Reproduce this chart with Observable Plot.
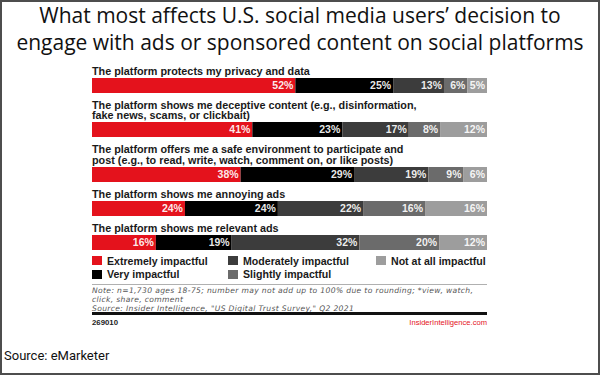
<!DOCTYPE html>
<html><head><meta charset="utf-8">
<script src="https://cdn.jsdelivr.net/npm/d3@7"></script>
<script src="https://cdn.jsdelivr.net/npm/@observablehq/plot@0.6"></script>
<style>
body{margin:0;background:#fff;}
#frame{position:relative;width:600px;height:375px;overflow:hidden;background:#fff;}
#border{position:absolute;left:0;top:0;width:600px;height:375px;box-sizing:border-box;border:2px solid #4d4d4d;pointer-events:none;}
#title{position:absolute;left:0;right:0;top:2px;text-align:center;font-family:"Open Sans";font-size:21px;line-height:27px;color:#111;white-space:nowrap;}
#chart{position:absolute;left:92px;top:65.75px;width:395px;}
.lab{font-family:"Liberation Sans";font-weight:bold;font-size:10.8px;line-height:10.5px;color:#1a1a1a;white-space:pre;margin-bottom:1.5px;}
.bar{margin-bottom:7px;}
svg{display:block;}
#legend{position:absolute;left:92px;top:254px;display:grid;grid-template-columns:136px 148px 120px;grid-template-rows:13.5px 13.5px;grid-auto-flow:column;font-family:"Liberation Sans";font-weight:bold;font-size:10.6px;color:#1a1a1a;}
#legend div{display:flex;align-items:center;white-space:nowrap;}
#legend span.sw{display:inline-block;width:10px;height:9px;margin-right:5px;}
#divider{position:absolute;left:92px;top:284px;width:395px;height:1px;background:#b0b0b0;}
#note{position:absolute;left:92px;top:285.5px;width:400px;font-family:"DejaVu Sans";font-style:italic;font-size:7.6px;line-height:9px;letter-spacing:0.35px;color:#555;white-space:nowrap;}
#thick{position:absolute;left:92px;top:312px;width:395px;height:3px;background:#111;}
#foot{position:absolute;left:92px;top:319px;width:395px;font-family:"Liberation Sans";font-weight:bold;font-size:7.8px;line-height:8px;color:#222;}
#foot .r{position:absolute;right:0;top:0;color:#e4121c;font-weight:normal;font-size:7.6px;}
#source{position:absolute;left:4px;top:348px;font-family:Roboto;font-size:13px;color:#111;}
</style>
</head><body>
<div id="frame">
  <div id="title">What most affects U.S. social media users’ decision to<br>engage with ads or sponsored content on social platforms</div>
  <div id="chart"></div>
  <div id="legend"></div>
  <div id="divider"></div>
  <div id="note">Note: n=1,730 ages 18-75; number may not add up to 100% due to rounding; *view, watch,<br>click, share, comment<br>Source: Insider Intelligence, "US Digital Trust Survey," Q2 2021</div>
  <div id="thick"></div>
  <div id="foot">269010<span class="r">InsiderIntelligence.com</span></div>
  <div id="source">Source: eMarketer</div>
  <div id="border"></div>
</div>
<script>
const statements = [
  "The platform protects my privacy and data",
  "The platform shows me deceptive content (e.g., disinformation,\nfake news, scams, or clickbait)",
  "The platform offers me a safe environment to participate and\npost (e.g., to read, write, watch, comment on, or like posts)",
  "The platform shows me annoying ads",
  "The platform shows me relevant ads"
];
const levels = ["Extremely impactful", "Very impactful", "Moderately impactful", "Slightly impactful", "Not at all impactful"];
const extremely = [52, 41, 38, 24, 16];
const very = [25, 23, 29, 24, 19];
const moderately = [13, 17, 19, 22, 32];
const slightly = [6, 8, 9, 16, 20];
const notAtAll = [5, 12, 6, 16, 12];
const colors = ["#e4121c", "#000000", "#3c3c3c", "#6b6b6b", "#9d9d9d"];

const series = [extremely, very, moderately, slightly, notAtAll];
const chart = document.getElementById("chart");

statements.forEach((s, i) => {
  const rowData = levels.map((lv, j) => ({level: lv, value: series[j][i]}));
  const lab = document.createElement("div");
  lab.className = "lab";
  lab.textContent = s;
  chart.appendChild(lab);
  const p = Plot.plot({
    width: 395, height: 15,
    marginTop: 0, marginBottom: 0, marginLeft: 0, marginRight: 0,
    x: {domain: [0, 1], axis: null},
    color: {domain: levels, range: colors},
    marks: [
      Plot.barX(rowData, Plot.stackX({x: "value", fill: "level", offset: "normalize"})),
      Plot.text(rowData, Plot.stackX2({
        x: "value", offset: "normalize",
        text: d => d.value + "%",
        textAnchor: "end", dx: -2.5, fill: "white", fillOpacity: 0.92,
        fontWeight: "bold", fontSize: 10.5, fontFamily: "Liberation Sans"
      }))
    ]
  });
  const wrap = document.createElement("div");
  wrap.className = "bar";
  wrap.appendChild(p);
  chart.appendChild(wrap);
});

const legend = document.getElementById("legend");
levels.forEach((lv, j) => {
  const d = document.createElement("div");
  const sw = document.createElement("span");
  sw.className = "sw";
  sw.style.background = colors[j];
  d.appendChild(sw);
  d.appendChild(document.createTextNode(lv));
  legend.appendChild(d);
});
</script>
</body></html>
